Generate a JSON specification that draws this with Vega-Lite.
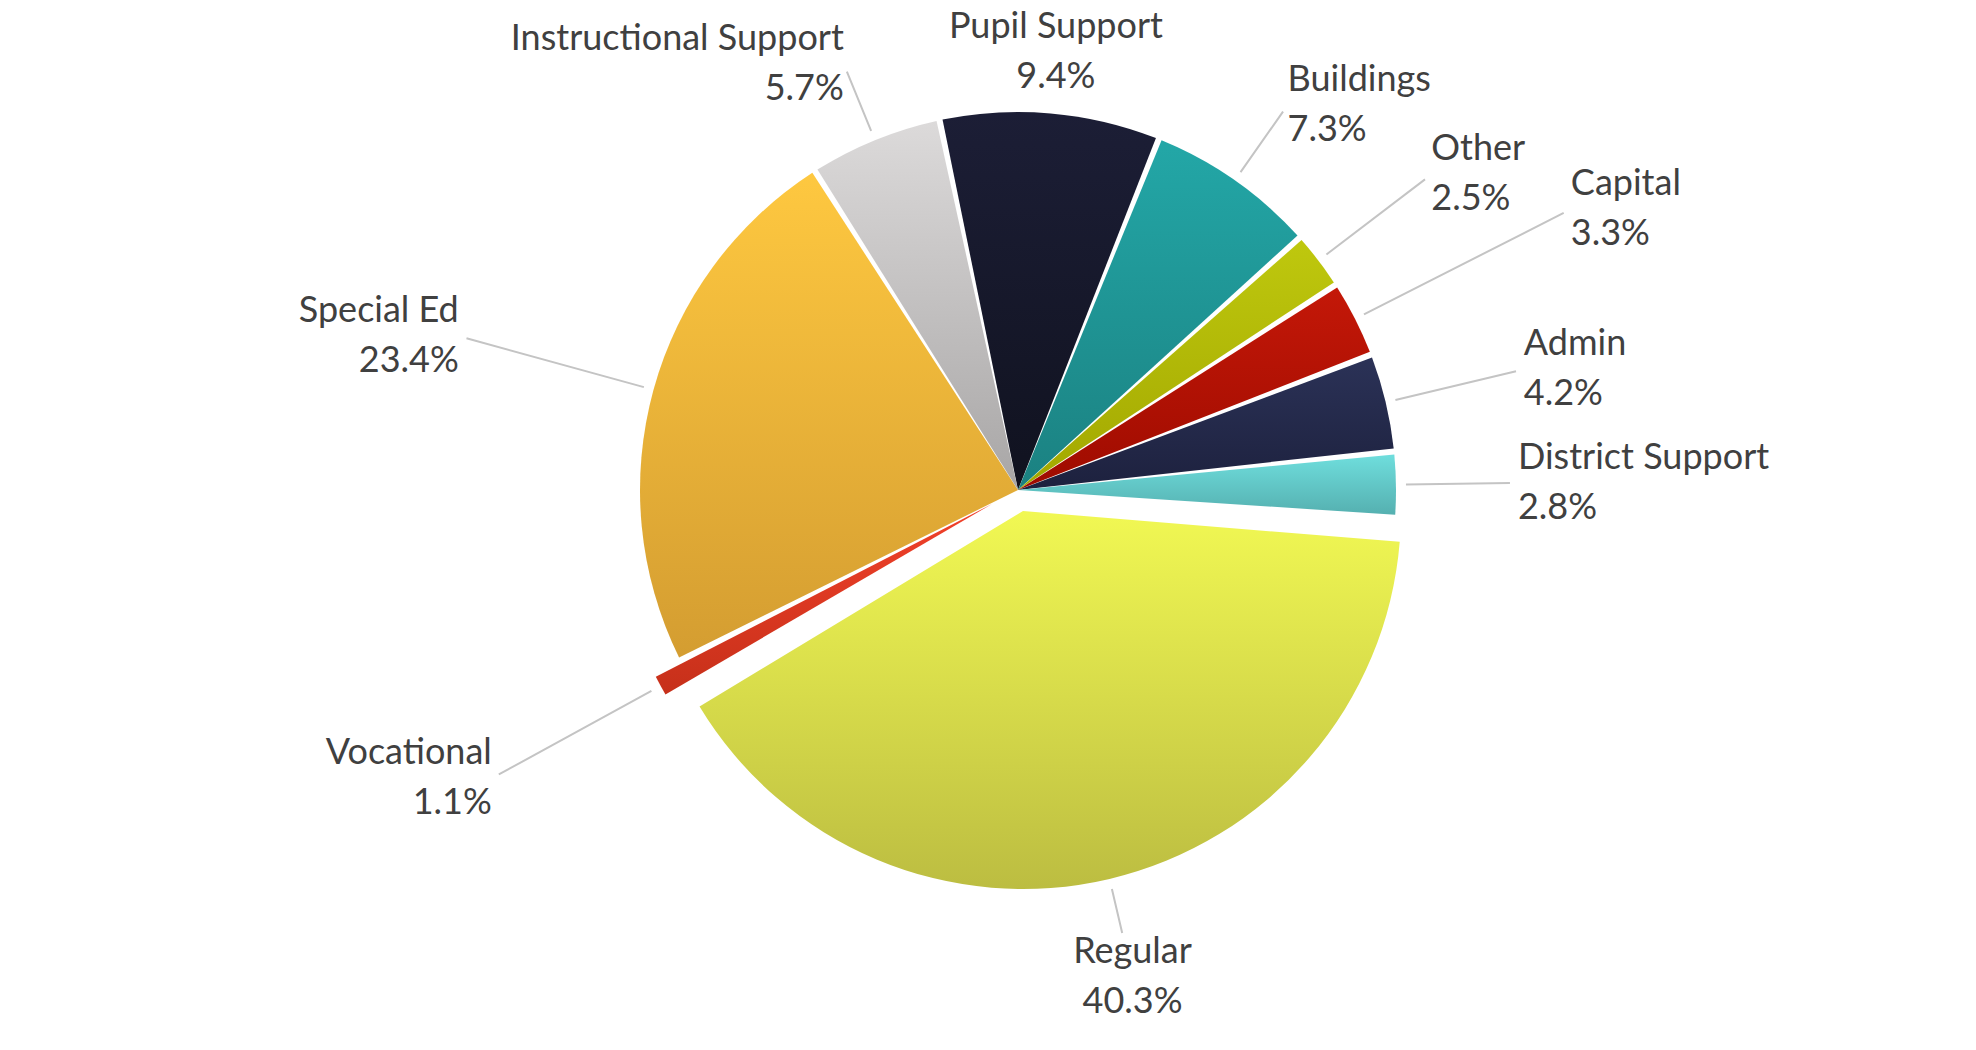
{
  "$schema": "https://vega.github.io/schema/vega-lite/v6.json",
  "width": 1976,
  "height": 1050,
  "autosize": {"type": "fit", "contains": "padding"},
  "padding": {"left": 60, "top": 0, "right": 0, "bottom": 84},
  "background": "white",
  "config": {"view": {"stroke": null}, "text": {"font": "Lato", "fontSize": 36, "color": "#404040", "baseline": "alphabetic"}, "arc": {"strokeWidth": 2}},
  "data": {
    "values": [
      {"name": "Pupil Support", "share": 0.094, "order": 1},
      {"name": "Buildings", "share": 0.073, "order": 2},
      {"name": "Other", "share": 0.025, "order": 3},
      {"name": "Capital", "share": 0.033, "order": 4},
      {"name": "Admin", "share": 0.042, "order": 5},
      {"name": "District Support", "share": 0.028, "order": 6},
      {"name": "Regular", "share": 0.403, "order": 7},
      {"name": "Vocational", "share": 0.011, "order": 8},
      {"name": "Special Ed", "share": 0.234, "order": 9},
      {"name": "Instructional Support", "share": 0.057, "order": 10}
    ]
  },
  "encoding": {
    "theta": {"field": "share", "type": "quantitative", "stack": true, "scale": {"domain": [0, 1], "range": [-0.209, 6.074]}},
    "order": {"field": "order", "type": "quantitative"}
  },
  "layer": [
    {
      "mark": {"type": "arc", "outerRadius": 378, "padAngle": 0.016, "strokeWidth": 0},
      "encoding": {
        "color": {
          "condition": [
            {"test": "datum.name === 'Pupil Support'", "value": {"gradient": "linear", "x1": 0, "y1": 0, "x2": 0, "y2": 1, "stops": [{"offset": 0, "color": "#1C1E36"}, {"offset": 1, "color": "#10121F"}]}},
            {"test": "datum.name === 'Buildings'", "value": {"gradient": "linear", "x1": 0, "y1": 0, "x2": 0, "y2": 1, "stops": [{"offset": 0, "color": "#23A7A7"}, {"offset": 1, "color": "#1B8181"}]}},
            {"test": "datum.name === 'Other'", "value": {"gradient": "linear", "x1": 0, "y1": 0, "x2": 0, "y2": 1, "stops": [{"offset": 0, "color": "#BFC80E"}, {"offset": 1, "color": "#A2A700"}]}},
            {"test": "datum.name === 'Capital'", "value": {"gradient": "linear", "x1": 0, "y1": 0, "x2": 0, "y2": 1, "stops": [{"offset": 0, "color": "#C41808"}, {"offset": 1, "color": "#9E0B00"}]}},
            {"test": "datum.name === 'Admin'", "value": {"gradient": "linear", "x1": 0, "y1": 0, "x2": 0, "y2": 1, "stops": [{"offset": 0, "color": "#2B3257"}, {"offset": 1, "color": "#1D213E"}]}},
            {"test": "datum.name === 'District Support'", "value": {"gradient": "linear", "x1": 0, "y1": 0, "x2": 0, "y2": 1, "stops": [{"offset": 0, "color": "#6FDEDD"}, {"offset": 1, "color": "#55B0B0"}]}},
            {"test": "datum.name === 'Special Ed'", "value": {"gradient": "linear", "x1": 0, "y1": 0, "x2": 0, "y2": 1, "stops": [{"offset": 0, "color": "#FEC840"}, {"offset": 1, "color": "#D49D31"}]}},
            {"test": "datum.name === 'Instructional Support'", "value": {"gradient": "linear", "x1": 0, "y1": 0, "x2": 0, "y2": 1, "stops": [{"offset": 0, "color": "#DCDADA"}, {"offset": 1, "color": "#A8A6A6"}]}}
          ],
          "value": "transparent"
        }
      }
    },
    {
      "mark": {"type": "arc", "outerRadius": 378, "padAngle": 0.016, "strokeWidth": 0, "xOffset": 5, "yOffset": 21},
      "encoding": {
        "color": {
          "condition": {"test": "datum.name === 'Regular'", "value": {"gradient": "linear", "x1": 0, "y1": 0, "x2": 0, "y2": 1, "stops": [{"offset": 0, "color": "#F1F853"}, {"offset": 1, "color": "#BCBD41"}]}},
          "value": "transparent"
        }
      }
    },
    {
      "mark": {"type": "arc", "outerRadius": 378, "padAngle": 0.016, "strokeWidth": 0, "xOffset": -26, "yOffset": 14},
      "encoding": {
        "color": {
          "condition": {"test": "datum.name === 'Vocational'", "value": {"gradient": "linear", "x1": 0, "y1": 0, "x2": 0, "y2": 1, "stops": [{"offset": 0, "color": "#F2412A"}, {"offset": 1, "color": "#C6301A"}]}},
          "value": "transparent"
        }
      }
    },
    {"mark": {"type": "arc", "innerRadius": 388, "outerRadius": 462, "padAngle": 3, "filled": false},
     "encoding": {"color": {"condition": {"test": "datum.name === 'Buildings'", "value": "#C4C4C4"}, "value": "transparent"}}},
    {"mark": {"type": "arc", "innerRadius": 388, "outerRadius": 512, "padAngle": 3, "filled": false},
     "encoding": {"color": {"condition": {"test": "datum.name === 'Other'", "value": "#C4C4C4"}, "value": "transparent"}}},
    {"mark": {"type": "arc", "innerRadius": 388, "outerRadius": 612, "padAngle": 3, "filled": false},
     "encoding": {"color": {"condition": {"test": "datum.name === 'Capital'", "value": "#C4C4C4"}, "value": "transparent"}}},
    {"mark": {"type": "arc", "innerRadius": 388, "outerRadius": 512, "padAngle": 3, "filled": false},
     "encoding": {"color": {"condition": {"test": "datum.name === 'Admin'", "value": "#C4C4C4"}, "value": "transparent"}}},
    {"mark": {"type": "arc", "innerRadius": 388, "outerRadius": 492, "padAngle": 3, "filled": false},
     "encoding": {"color": {"condition": {"test": "datum.name === 'District Support'", "value": "#C4C4C4"}, "value": "transparent"}}},
    {"mark": {"type": "arc", "innerRadius": 410, "outerRadius": 455, "padAngle": 3, "filled": false},
     "encoding": {"color": {"condition": {"test": "datum.name === 'Regular'", "value": "#C4C4C4"}, "value": "transparent"}}},
    {"mark": {"type": "arc", "innerRadius": 418, "outerRadius": 592, "padAngle": 3, "filled": false},
     "encoding": {"color": {"condition": {"test": "datum.name === 'Vocational'", "value": "#C4C4C4"}, "value": "transparent"}}},
    {"mark": {"type": "arc", "innerRadius": 388, "outerRadius": 572, "padAngle": 3, "filled": false},
     "encoding": {"color": {"condition": {"test": "datum.name === 'Special Ed'", "value": "#C4C4C4"}, "value": "transparent"}}},
    {"mark": {"type": "arc", "innerRadius": 388, "outerRadius": 452, "padAngle": 3, "filled": false},
     "encoding": {"color": {"condition": {"test": "datum.name === 'Instructional Support'", "value": "#C4C4C4"}, "value": "transparent"}}},

    {"mark": {"type": "text", "radius": 440, "align": "center", "dy": -14},
     "encoding": {"text": {"condition": {"test": "datum.name === 'Pupil Support'", "field": "name", "type": "nominal"}, "value": ""}}},
    {"mark": {"type": "text", "radius": 440, "align": "center", "dy": 36},
     "encoding": {"text": {"condition": {"test": "datum.name === 'Pupil Support'", "field": "share", "type": "quantitative", "format": ".1%"}, "value": ""}}},

    {"mark": {"type": "text", "radius": 470, "align": "left", "dy": -14},
     "encoding": {"text": {"condition": {"test": "datum.name === 'Buildings'", "field": "name", "type": "nominal"}, "value": ""}}},
    {"mark": {"type": "text", "radius": 470, "align": "left", "dy": 36},
     "encoding": {"text": {"condition": {"test": "datum.name === 'Buildings'", "field": "share", "type": "quantitative", "format": ".1%"}, "value": ""}}},

    {"mark": {"type": "text", "radius": 520, "align": "left", "dy": -14},
     "encoding": {"text": {"condition": {"test": "datum.name === 'Other'", "field": "name", "type": "nominal"}, "value": ""}}},
    {"mark": {"type": "text", "radius": 520, "align": "left", "dy": 36},
     "encoding": {"text": {"condition": {"test": "datum.name === 'Other'", "field": "share", "type": "quantitative", "format": ".1%"}, "value": ""}}},

    {"mark": {"type": "text", "radius": 620, "align": "left", "dy": -14},
     "encoding": {"text": {"condition": {"test": "datum.name === 'Capital'", "field": "name", "type": "nominal"}, "value": ""}}},
    {"mark": {"type": "text", "radius": 620, "align": "left", "dy": 36},
     "encoding": {"text": {"condition": {"test": "datum.name === 'Capital'", "field": "share", "type": "quantitative", "format": ".1%"}, "value": ""}}},

    {"mark": {"type": "text", "radius": 520, "align": "left", "dy": -14},
     "encoding": {"text": {"condition": {"test": "datum.name === 'Admin'", "field": "name", "type": "nominal"}, "value": ""}}},
    {"mark": {"type": "text", "radius": 520, "align": "left", "dy": 36},
     "encoding": {"text": {"condition": {"test": "datum.name === 'Admin'", "field": "share", "type": "quantitative", "format": ".1%"}, "value": ""}}},

    {"mark": {"type": "text", "radius": 500, "align": "left", "dy": -14},
     "encoding": {"text": {"condition": {"test": "datum.name === 'District Support'", "field": "name", "type": "nominal"}, "value": ""}}},
    {"mark": {"type": "text", "radius": 500, "align": "left", "dy": 36},
     "encoding": {"text": {"condition": {"test": "datum.name === 'District Support'", "field": "share", "type": "quantitative", "format": ".1%"}, "value": ""}}},

    {"mark": {"type": "text", "radius": 500, "align": "center", "dy": -14},
     "encoding": {"text": {"condition": {"test": "datum.name === 'Regular'", "field": "name", "type": "nominal"}, "value": ""}}},
    {"mark": {"type": "text", "radius": 500, "align": "center", "dy": 36},
     "encoding": {"text": {"condition": {"test": "datum.name === 'Regular'", "field": "share", "type": "quantitative", "format": ".1%"}, "value": ""}}},

    {"mark": {"type": "text", "radius": 600, "align": "right", "dy": -14},
     "encoding": {"text": {"condition": {"test": "datum.name === 'Vocational'", "field": "name", "type": "nominal"}, "value": ""}}},
    {"mark": {"type": "text", "radius": 600, "align": "right", "dy": 36},
     "encoding": {"text": {"condition": {"test": "datum.name === 'Vocational'", "field": "share", "type": "quantitative", "format": ".1%"}, "value": ""}}},

    {"mark": {"type": "text", "radius": 580, "align": "right", "dy": -14},
     "encoding": {"text": {"condition": {"test": "datum.name === 'Special Ed'", "field": "name", "type": "nominal"}, "value": ""}}},
    {"mark": {"type": "text", "radius": 580, "align": "right", "dy": 36},
     "encoding": {"text": {"condition": {"test": "datum.name === 'Special Ed'", "field": "share", "type": "quantitative", "format": ".1%"}, "value": ""}}},

    {"mark": {"type": "text", "radius": 460, "align": "right", "dy": -14},
     "encoding": {"text": {"condition": {"test": "datum.name === 'Instructional Support'", "field": "name", "type": "nominal"}, "value": ""}}},
    {"mark": {"type": "text", "radius": 460, "align": "right", "dy": 36},
     "encoding": {"text": {"condition": {"test": "datum.name === 'Instructional Support'", "field": "share", "type": "quantitative", "format": ".1%"}, "value": ""}}}
  ]
}
